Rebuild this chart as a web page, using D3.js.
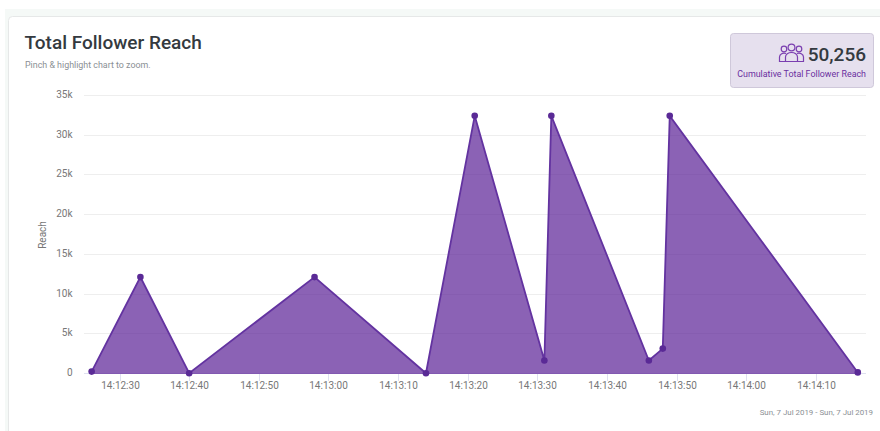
<!DOCTYPE html>
<html><head><meta charset="utf-8">
<script src="https://cdnjs.cloudflare.com/ajax/libs/d3/7.8.5/d3.min.js"></script>
<style>
html,body{margin:0;padding:0;background:#fff;overflow:hidden}
svg{display:block;font-family:Roboto,sans-serif}
</style></head><body>
<svg id="c" width="880" height="431"></svg>
<script>
const times=["14:12:26","14:12:33","14:12:40","14:12:58","14:13:14","14:13:21","14:13:31","14:13:32","14:13:46","14:13:48","14:13:49","14:14:16"];
const reach=[300,12200,100,12200,100,32500,1700,32500,1700,3200,32500,200];
const yTicks=[0,5000,10000,15000,20000,25000,30000,35000];
const xTicks=["14:12:30","14:12:40","14:12:50","14:13:00","14:13:10","14:13:20","14:13:30","14:13:40","14:13:50","14:14:00","14:14:10"];
const titleText="Total Follower Reach";
const subtitleText="Pinch & highlight chart to zoom.";
const totalText="50,256";
const totalLabel="Cumulative Total Follower Reach";
const yLabel="Reach";
const dateRange="Sun, 7 Jul 2019 - Sun, 7 Jul 2019";

const parse=d3.timeParse("%H:%M:%S");
const svg=d3.select("#c");
const x=d3.scaleTime().domain([parse("14:12:30"),parse("14:14:10")]).range([119.5,816]);
const y=d3.scaleLinear().domain([0,35000]).range([374,96]);

// page strip and card
svg.append("rect").attr("x",5).attr("y",9).attr("width",875).attr("height",422).attr("fill","#f5f9f7");
svg.append("rect").attr("x",8.5).attr("y",16.5).attr("width",880).attr("height",430).attr("rx",4).attr("fill","#fff").attr("stroke","#e6e8e8");

// grid
svg.append("g").selectAll("line").data(yTicks).join("line")
  .attr("x1",84).attr("x2",866).attr("y1",d=>Math.round(y(d))-.5).attr("y2",d=>Math.round(y(d))-.5)
  .attr("stroke",d=>d===0?"#dfe0f0":"#eeeeee");
// y labels
svg.append("g").selectAll("text").data(yTicks).join("text")
  .attr("x",72.5).attr("y",d=>y(d)+2).attr("text-anchor","end")
  .attr("font-size",10).attr("fill","#777")
  .text(d=>d===0?"0":d/1000+"k");
// x ticks
const xg=svg.append("g").selectAll("g").data(xTicks).join("g")
  .attr("transform",d=>`translate(${Math.round(x(parse(d)))+.5},0)`);
xg.append("line").attr("y1",374).attr("y2",381).attr("stroke","#dfe0f0");
xg.append("text").attr("y",389).attr("text-anchor","middle").attr("font-size",10).attr("fill","#777").text(d=>d);

// area
const data=times.map((t,i)=>({t:parse(t),v:reach[i]}));
svg.append("path").datum(data).attr("fill","#5a2096").attr("fill-opacity",.7)
  .attr("d",d3.area().x(d=>x(d.t)).y0(y(0)).y1(d=>y(d.v)));
svg.append("path").datum(data).attr("fill","none").attr("stroke","#6333a0").attr("stroke-width",1.8)
  .attr("d",d3.line().x(d=>x(d.t)).y(d=>y(d.v)));
svg.append("g").selectAll("circle").data(data).join("circle")
  .attr("cx",d=>x(d.t)).attr("cy",d=>y(d.v)).attr("r",3.3).attr("fill","#5a2a96");

// texts
svg.append("text").attr("x",24.5).attr("y",49).attr("font-size",19).attr("font-weight",500).attr("fill","#343a40").text(titleText);
svg.append("text").attr("x",25).attr("y",68).attr("font-size",8.9).attr("fill","#8a8f94").text(subtitleText);
svg.append("text").attr("transform","translate(46,235) rotate(-90)").attr("text-anchor","middle").attr("font-size",10).attr("fill","#777").text(yLabel);
svg.append("text").attr("x",873).attr("y",415).attr("text-anchor","end").attr("font-size",7.9).attr("fill","#8a8f94").text(dateRange);

// badge
svg.append("rect").attr("x",730.5).attr("y",33.5).attr("width",143).attr("height",54).attr("rx",3).attr("fill","#e6e0ee").attr("stroke","#cfc8da");
svg.append("text").attr("x",866).attr("y",60.5).attr("text-anchor","end").attr("font-size",19).attr("font-weight",500).attr("fill","#343a40").text(totalText);
svg.append("text").attr("x",866).attr("y",77).attr("text-anchor","end").attr("font-size",8.9).attr("fill","#6a2fa0").text(totalLabel);
// people icon
const ic=svg.append("g").attr("fill","none").attr("stroke","#7b3fb0").attr("stroke-width",1.2);
[[791.5,47.5,3.4],[784,49,2.8],[799,49,2.8]].forEach(c=>ic.append("circle").attr("cx",c[0]).attr("cy",c[1]).attr("r",c[2]));
ic.append("path").attr("d","M785.5 61.5v-4.5a6 4.5 0 0 1 12 0v4.5z");
ic.append("path").attr("d","M785.5 61.5h-6v-4.5a4.5 4 0 0 1 6.5-3.5");
ic.append("path").attr("d","M797.5 61.5h6v-4.5a4.5 4 0 0 0-6.5-3.5");
</script>
</body></html>
